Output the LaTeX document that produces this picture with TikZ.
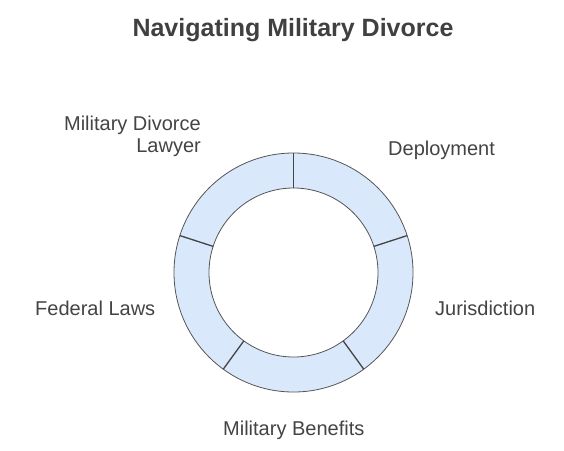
\documentclass[tikz,border=0pt]{standalone}
\usepackage{fontspec}
\setmainfont{Liberation Sans}
\usetikzlibrary{calc}
\definecolor{ringfill}{HTML}{DAE8FC}
\definecolor{ringline}{HTML}{555555}
\definecolor{divline}{HTML}{444444}
\definecolor{labelgray}{HTML}{444444}
\definecolor{titlegray}{HTML}{404040}
\begin{document}
\begin{tikzpicture}[x=1pt,y=-1pt,
  lbl/.style={inner sep=0pt,text=labelgray,font=\fontsize{20}{21.8}\selectfont},
  ttl/.style={inner sep=0pt,text=titlegray,font=\fontsize{25}{30}\selectfont\bfseries},
  ringedge/.style={draw=ringline,line width=0.8pt},
  divider/.style={draw=divline,line width=1.3pt}]
\useasboundingbox (0,0) rectangle (564,450);
\fill[white] (0,0) rectangle (564,450);
\coordinate (c) at (293.5,272.5);
\fill[ringfill,even odd rule] (c) circle[radius=119.5] (c) circle[radius=84.5];
\draw[ringedge] (c) circle[radius=119.5];
\draw[ringedge] (c) circle[radius=84.5];
\foreach \a in {90,18,-54,-126,162}
  \draw[divider] ($(c)+(\a:84.5pt)$) -- ($(c)+(\a:119.5pt)$);
\node[ttl,anchor=base] (title) at (293,36.5) {Navigating Military Divorce};
\node[lbl,anchor=base west] (dep) at (388,155) {Deployment};
\node[lbl,anchor=base west] (jur) at (435,315.5) {Jurisdiction};
\node[lbl,anchor=base west] (fed) at (35,315.5) {Federal Laws};
\node[lbl,anchor=base west] (ben) at (223,435.5) {Military Benefits};
\node[lbl,anchor=north east,align=right] (law) at (201,116) {Military Divorce\\Lawyer};
\end{tikzpicture}
\end{document}
